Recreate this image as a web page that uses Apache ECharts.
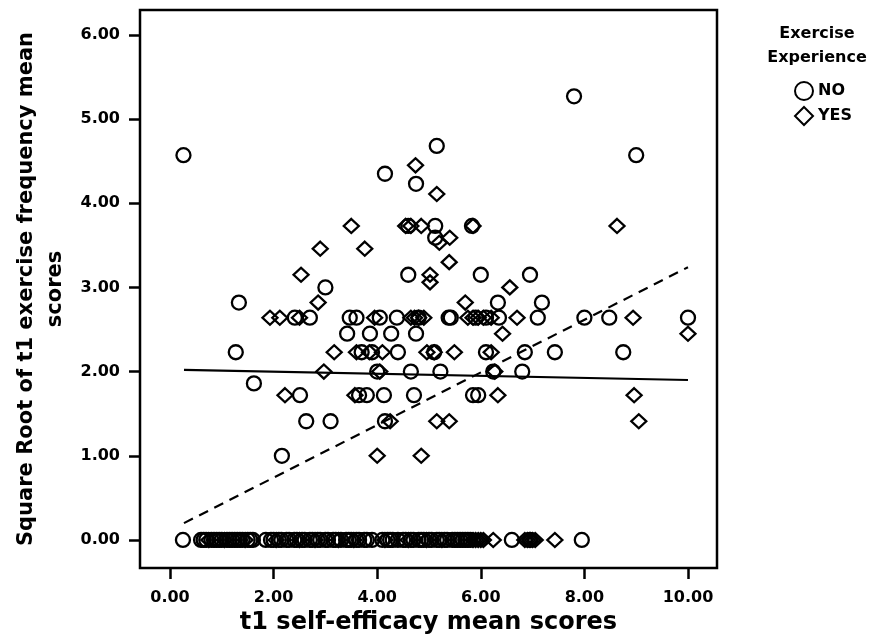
<!DOCTYPE html>
<html>
<head>
<meta charset="utf-8">
<script src="https://cdn.jsdelivr.net/npm/echarts@6/dist/echarts.min.js"></script>
<style>
html,body{margin:0;padding:0;background:#fff;}
#chart{width:876px;height:644px;}
</style>
</head>
<body>
<div id="chart"></div>
<script>
// ---- Data ----
const xTicks = [0, 2, 4, 6, 8, 10];
const yTicks = [0, 1, 2, 3, 4, 5, 6];

// Exercise Experience = NO (circles): [self-efficacy, sqrt exercise frequency]
const noPoints = [
  [0.26, 4.57], [4.15, 4.35], [4.75, 4.23], [5.15, 4.68], [7.8, 5.27], [9.0, 4.57],
  [4.6, 3.73], [5.12, 3.73], [5.83, 3.73],
  [5.12, 3.59],
  [4.6, 3.15], [6.0, 3.15], [6.95, 3.15],
  [3.0, 3.0],
  [1.33, 2.82], [6.33, 2.82], [7.18, 2.82],
  [2.41, 2.64], [2.7, 2.64], [3.47, 2.64], [3.6, 2.64], [4.05, 2.64], [4.38, 2.64], [4.8, 2.64],
  [5.38, 2.64], [5.42, 2.64], [5.9, 2.64], [6.1, 2.64], [6.35, 2.64], [7.1, 2.64], [8.0, 2.64],
  [8.48, 2.64], [10.0, 2.64],
  [3.42, 2.45], [3.86, 2.45], [4.27, 2.45], [4.75, 2.45],
  [1.27, 2.23], [3.7, 2.23], [3.9, 2.23], [4.4, 2.23], [5.1, 2.23], [6.1, 2.23], [6.85, 2.23],
  [7.43, 2.23], [8.75, 2.23],
  [4.0, 2.0], [4.65, 2.0], [5.22, 2.0], [6.24, 2.0], [6.8, 2.0],
  [1.62, 1.86],
  [2.51, 1.72], [3.65, 1.72], [3.8, 1.72], [4.13, 1.72], [4.71, 1.72], [5.85, 1.72], [5.95, 1.72],
  [2.63, 1.41], [3.1, 1.41], [4.15, 1.41],
  [2.16, 1.0],
  [0.25, 0], [0.6, 0], [0.65, 0], [0.7, 0], [0.8, 0], [0.85, 0], [0.9, 0], [0.95, 0], [1.0, 0],
  [1.1, 0], [1.15, 0], [1.2, 0], [1.25, 0], [1.3, 0], [1.35, 0], [1.4, 0], [1.5, 0], [1.55, 0],
  [1.6, 0], [1.85, 0], [1.95, 0], [2.0, 0], [2.1, 0], [2.15, 0], [2.25, 0], [2.3, 0], [2.4, 0],
  [2.45, 0], [2.55, 0], [2.6, 0], [2.7, 0], [2.75, 0], [2.85, 0], [2.9, 0], [3.0, 0], [3.05, 0],
  [3.15, 0], [3.2, 0], [3.3, 0], [3.4, 0], [3.45, 0], [3.5, 0], [3.6, 0], [3.65, 0], [3.75, 0],
  [3.8, 0], [3.9, 0], [4.1, 0], [4.2, 0], [4.25, 0], [4.3, 0], [4.4, 0], [4.5, 0], [4.55, 0],
  [4.65, 0], [4.7, 0], [4.8, 0], [4.85, 0], [4.9, 0], [5.0, 0], [5.05, 0], [5.15, 0], [5.2, 0],
  [5.3, 0], [5.35, 0], [5.45, 0], [5.5, 0], [5.55, 0], [5.6, 0], [5.65, 0], [5.7, 0], [5.75, 0],
  [5.8, 0], [6.6, 0], [6.95, 0], [7.95, 0]
];

// Exercise Experience = YES (diamonds)
const yesPoints = [
  [4.74, 4.45], [5.15, 4.11],
  [3.5, 3.73], [4.55, 3.73], [4.65, 3.73], [4.85, 3.73], [5.85, 3.73], [8.63, 3.73],
  [5.4, 3.59], [5.2, 3.53],
  [2.9, 3.46], [3.76, 3.46],
  [5.39, 3.30],
  [2.53, 3.15], [5.02, 3.15], [5.02, 3.06],
  [6.56, 3.0],
  [2.86, 2.82], [5.7, 2.82],
  [1.93, 2.64], [2.12, 2.64], [2.5, 2.64], [3.95, 2.64], [4.65, 2.64], [4.72, 2.64], [4.8, 2.64],
  [4.9, 2.64], [5.75, 2.64], [5.85, 2.64], [5.95, 2.64], [6.05, 2.64], [6.2, 2.64], [6.7, 2.64],
  [8.94, 2.64],
  [6.42, 2.45], [10.0, 2.45],
  [3.17, 2.23], [3.6, 2.23], [3.85, 2.23], [4.1, 2.23], [4.96, 2.23], [5.1, 2.23], [5.49, 2.23],
  [6.2, 2.23],
  [2.97, 2.0], [4.05, 2.0], [6.27, 2.0],
  [2.22, 1.72], [3.57, 1.72], [6.33, 1.72], [8.96, 1.72],
  [4.25, 1.41], [5.15, 1.41], [5.39, 1.41], [9.05, 1.41],
  [4.0, 1.0], [4.85, 1.0],
  [0.75, 0], [1.05, 0], [1.45, 0], [2.05, 0], [2.5, 0], [2.8, 0], [3.25, 0], [3.55, 0], [4.15, 0],
  [4.6, 0], [4.95, 0], [5.25, 0], [5.85, 0], [5.9, 0], [5.95, 0], [6.0, 0], [6.05, 0], [6.24, 0],
  [6.85, 0], [6.9, 0], [6.95, 0], [7.0, 0], [7.05, 0], [7.43, 0]
];

// Fit lines (endpoints)
const fitNo = [[0.27, 2.02], [10.0, 1.90]];
const fitYes = [[0.27, 0.20], [10.0, 3.24]];

// ---- Chart ----
const FONT = 'DejaVu Sans';
const chart = echarts.init(document.getElementById('chart'), null, {renderer: 'canvas'});
const markerStyle = {color: 'rgba(0,0,0,0)', borderColor: '#000', borderWidth: 2.3, opacity: 1};

chart.setOption({
  backgroundColor: '#fff',
  animation: false,
  grid: {left: 140, right: 159, top: 10, bottom: 76, show: true, borderColor: '#000', borderWidth: 2.5, backgroundColor: 'transparent'},
  xAxis: {
    type: 'value', min: -0.579, max: 10.56,
    name: 't1 self-efficacy mean scores', nameLocation: 'middle', nameGap: 42,
    nameTextStyle: {fontFamily: FONT, fontWeight: 'bold', fontSize: 24, color: '#000'},
    axisLine: {show: false, onZero: false},
    splitLine: {show: false},
    axisTick: {show: true, length: 11, lineStyle: {color: '#000', width: 2.5}, customValues: xTicks},
    axisLabel: {fontFamily: FONT, fontWeight: 'bold', fontSize: 16, color: '#000', margin: 22,
      customValues: xTicks, formatter: v => v.toFixed(2)}
  },
  yAxis: {
    type: 'value', min: -0.333, max: 6.295,
    name: 'Square Root of t1 exercise frequency mean\nscores', nameLocation: 'middle', nameGap: 68,
    nameTextStyle: {fontFamily: FONT, fontWeight: 'bold', fontSize: 21, color: '#000', lineHeight: 29, align: 'center'},
    axisLine: {show: false, onZero: false},
    splitLine: {show: false},
    axisTick: {show: true, length: 11, lineStyle: {color: '#000', width: 2.5}, customValues: yTicks},
    axisLabel: {fontFamily: FONT, fontWeight: 'bold', fontSize: 16, color: '#000', margin: 20,
      customValues: yTicks, formatter: v => v.toFixed(2)}
  },
  legend: {
    data: ['NO', 'YES'], orient: 'vertical', left: 789, top: 76, itemGap: 5,
    itemWidth: 18, itemHeight: 18,
    textStyle: {fontFamily: FONT, fontWeight: 'bold', fontSize: 16, color: '#000'}
  },
  graphic: [
    {type: 'text', x: 817, y: 22, style: {text: 'Exercise\nExperience', fontFamily: FONT, fontWeight: 'bold', fontSize: 16, lineHeight: 24, fill: '#000', align: 'center'}}
  ],
  series: [
    {name: 'NO', type: 'scatter', symbol: 'circle', symbolSize: 14, data: noPoints, itemStyle: markerStyle},
    {name: 'YES', type: 'scatter', symbol: 'diamond', symbolSize: [15, 14], data: yesPoints, itemStyle: markerStyle},
    {name: 'fitNo', type: 'line', data: fitNo, symbol: 'none', silent: true, lineStyle: {color: '#000', width: 2.2}},
    {name: 'fitYes', type: 'line', data: fitYes, symbol: 'none', silent: true, lineStyle: {color: '#000', width: 2.2, type: [10, 7]}}
  ]
});
</script>
</body>
</html>
